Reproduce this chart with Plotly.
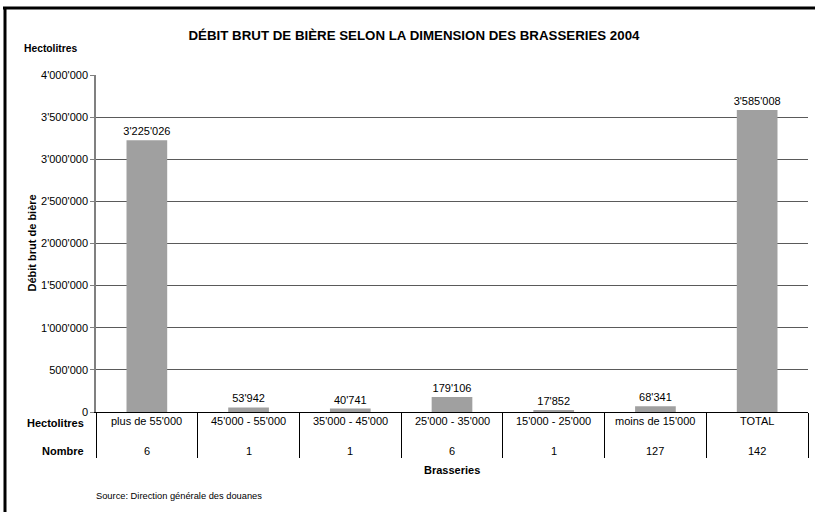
import plotly.graph_objects as go

# Data
classes = ["plus de 55'000", "45'000 - 55'000", "35'000 - 45'000", "25'000 - 35'000",
           "15'000 - 25'000", "moins de 15'000", "TOTAL"]
hectolitres = [3225026, 53942, 40741, 179106, 17852, 68341, 3585008]
nombre = [6, 1, 1, 6, 1, 127, 142]
y_ticks = [0, 500000, 1000000, 1500000, 2000000, 2500000, 3000000, 3500000, 4000000]

W, H = 815, 512
L, R, T, B = 96, 7, 75, 100
PW, PH = W - L - R, H - T - B
FONT = "Liberation Sans, Arial, sans-serif"


def px(x):
    return (x - L) / PW


def py(y):
    return (H - B - y) / PH


fig = go.Figure()
fig.add_trace(go.Bar(
    x=classes, y=hectolitres, marker_color="#a0a0a0", marker_line_width=0,
    text=hectolitres, texttemplate="%{y:,d}", textposition="outside", constraintext="none",
    textfont=dict(size=11, color="#000000"), cliponaxis=False, showlegend=False,
))

ann = []
for c, n in zip(classes, nombre):
    ann.append(dict(x=c, xref="x", y=0, yref="paper", yanchor="middle", yshift=-9,
                    text=c, showarrow=False, font=dict(size=11)))
    ann.append(dict(x=c, xref="x", y=0, yref="paper", yanchor="middle", yshift=-39,
                    text=str(n), showarrow=False, font=dict(size=11)))

ann += [
    dict(x=0, y=0, xref="paper", yref="paper", xanchor="right", yanchor="middle",
         xshift=-10, yshift=-11, text="<b>Hectolitres</b>", showarrow=False, font=dict(size=11)),
    dict(x=0, y=0, xref="paper", yref="paper", xanchor="right", yanchor="middle",
         xshift=-10, yshift=-39, text="<b>Nombre</b>", showarrow=False, font=dict(size=11)),
    dict(x=0.5, y=0, xref="paper", yref="paper", xanchor="center", yanchor="middle",
         yshift=-58, text="<b>Brasseries</b>", showarrow=False, font=dict(size=11)),
    dict(x=0, y=0, xref="paper", yref="paper", xanchor="left", yanchor="middle",
         xshift=-2, yshift=-84, text="Source: Direction générale des douanes",
         showarrow=False, font=dict(size=9.3)),
    dict(x=0, y=1, xref="paper", yref="paper", xanchor="right", yanchor="middle",
         xshift=-17, yshift=27, text="<b>Hectolitres</b>", showarrow=False, font=dict(size=10.3)),
    dict(x=0, y=0.5, xref="paper", yref="paper", xanchor="center", yanchor="middle",
         xshift=-65, textangle=-90, text="<b>Débit brut de bière</b>", showarrow=False,
         font=dict(size=11)),
]

shapes = [
    # frame
    dict(type="line", xref="paper", yref="paper", x0=px(3), x1=px(815), y0=py(8), y1=py(8),
         line=dict(color="#000000", width=3)),
    dict(type="line", xref="paper", yref="paper", x0=px(5), x1=px(5), y0=py(7), y1=py(512),
         line=dict(color="#000000", width=3)),
]

fig.update_xaxes(
    type="category", showticklabels=False, ticks="outside", tickson="boundaries",
    ticklen=45, tickcolor="#000000", tickwidth=1,
    showline=True, linecolor="#000000", linewidth=1, showgrid=False,
)
fig.update_yaxes(
    range=[0, 4000000], tickvals=y_ticks, tickformat=",d",
    ticks="outside", ticklen=4, tickcolor="#808080",
    showline=True, linecolor="#808080", linewidth=1.5,
    showgrid=True, gridcolor="#5a5a5a", gridwidth=1, zeroline=False,
    tickfont=dict(size=11),
)

fig.update_layout(
    title=dict(text="<b>DÉBIT BRUT DE BIÈRE SELON LA DIMENSION DES BRASSERIES 2004</b>",
               x=414 / W, xanchor="center", y=1 - 35 / H, yanchor="middle",
               font=dict(size=13.3, color="#000000")),
    width=W, height=H, margin=dict(l=L, r=R, t=T, b=B, autoexpand=False),
    bargap=0.6, separators=".'",
    plot_bgcolor="#ffffff", paper_bgcolor="#ffffff",
    font=dict(family=FONT, color="#000000", size=11),
    annotations=ann, shapes=shapes,
)

fig.write_html("out.html", config={"displayModeBar": False},
               post_script="document.body.style.margin='0';")
